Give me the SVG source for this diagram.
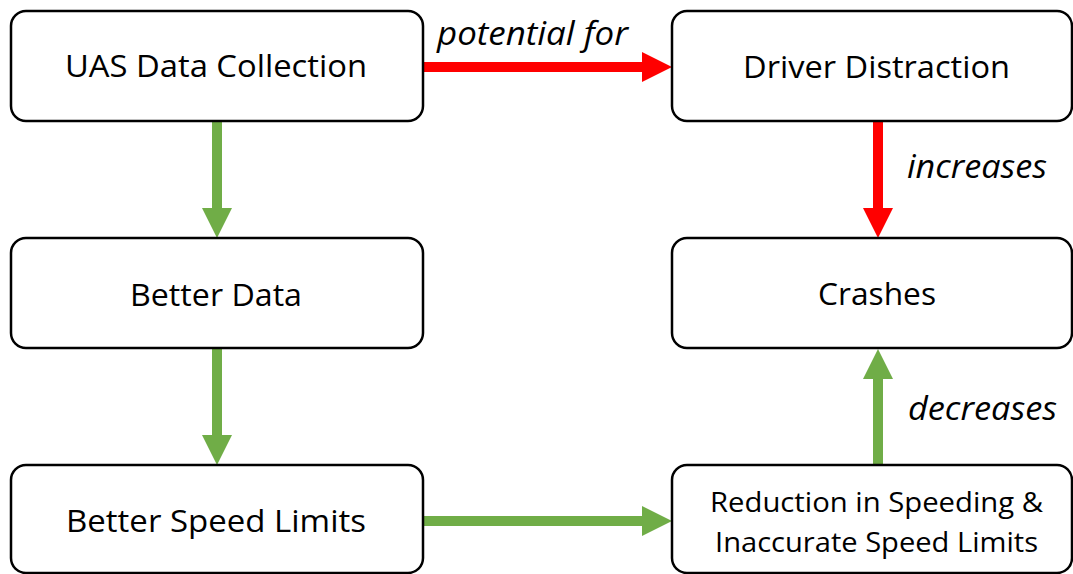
<svg xmlns="http://www.w3.org/2000/svg" width="1073" height="574" viewBox="0 0 1073 574">
  <style>
    .box { fill: #ffffff; stroke: #000000; stroke-width: 2.5; }
    .t { font-family: "Open Sans", "Noto Sans", "Liberation Sans", sans-serif; font-size: 31px; fill: #000000; }
    .ts { font-family: "Open Sans", "Noto Sans", "Liberation Sans", sans-serif; font-size: 28px; fill: #000000; }
    .lbl { font-family: "Open Sans", "Noto Sans", "Liberation Sans", sans-serif; font-size: 32px; font-style: italic; fill: #000000; }
    .g { stroke: #70AD47; stroke-width: 10; fill: none; }
    .r { stroke: #FF0000; stroke-width: 10; fill: none; }
  </style>
  <defs>
    <marker id="ahG" viewBox="0 0 30 30" refX="0" refY="15" markerWidth="30" markerHeight="30" markerUnits="userSpaceOnUse" orient="auto">
      <path d="M0,0 L30,15 L0,30 Z" fill="#70AD47"/>
    </marker>
    <marker id="ahR" viewBox="0 0 30 30" refX="0" refY="15" markerWidth="30" markerHeight="30" markerUnits="userSpaceOnUse" orient="auto">
      <path d="M0,0 L30,15 L0,30 Z" fill="#FF0000"/>
    </marker>
  </defs>

  <g id="connectors">
    <line class="g" x1="217" y1="121" x2="217" y2="208" marker-end="url(#ahG)"/>
    <line class="g" x1="217" y1="348" x2="217" y2="435" marker-end="url(#ahG)"/>
    <line class="r" x1="423" y1="67" x2="642" y2="67" marker-end="url(#ahR)"/>
    <line class="r" x1="878" y1="121" x2="878" y2="208" marker-end="url(#ahR)"/>
    <line class="g" x1="878" y1="465" x2="878" y2="379" marker-end="url(#ahG)"/>
    <line class="g" x1="423" y1="521" x2="642" y2="521" marker-end="url(#ahG)"/>
    <text class="lbl" x="437" y="45" textLength="191" lengthAdjust="spacingAndGlyphs">potential for</text>
    <text class="lbl" x="907" y="178" textLength="140" lengthAdjust="spacingAndGlyphs">increases</text>
    <text class="lbl" x="908" y="420" textLength="149" lengthAdjust="spacingAndGlyphs">decreases</text>
  </g>

  <g id="node-uas">
    <rect class="box" x="11" y="11" width="412" height="110" rx="15" ry="15"/>
    <text class="t" x="65" y="77" textLength="302" lengthAdjust="spacingAndGlyphs">UAS Data Collection</text>
  </g>
  <g id="node-better-data">
    <rect class="box" x="11" y="238" width="412" height="110" rx="15" ry="15"/>
    <text class="t" x="130" y="306" textLength="172" lengthAdjust="spacingAndGlyphs">Better Data</text>
  </g>
  <g id="node-better-speed-limits">
    <rect class="box" x="11" y="465" width="412" height="108" rx="15" ry="15"/>
    <text class="t" x="66" y="532" textLength="300" lengthAdjust="spacingAndGlyphs">Better Speed Limits</text>
  </g>
  <g id="node-driver-distraction">
    <rect class="box" x="672" y="11" width="400" height="110" rx="15" ry="15"/>
    <text class="t" x="743" y="78" textLength="267" lengthAdjust="spacingAndGlyphs">Driver Distraction</text>
  </g>
  <g id="node-crashes">
    <rect class="box" x="672" y="238" width="400" height="110" rx="15" ry="15"/>
    <text class="t" x="818" y="305" textLength="118" lengthAdjust="spacingAndGlyphs">Crashes</text>
  </g>
  <g id="node-reduction">
    <rect class="box" x="672" y="465" width="400" height="108" rx="15" ry="15"/>
    <text class="ts" x="710" y="512" textLength="333" lengthAdjust="spacingAndGlyphs">Reduction in Speeding &amp;</text>
    <text class="ts" x="715" y="552" textLength="323" lengthAdjust="spacingAndGlyphs">Inaccurate Speed Limits</text>
  </g>
</svg>
